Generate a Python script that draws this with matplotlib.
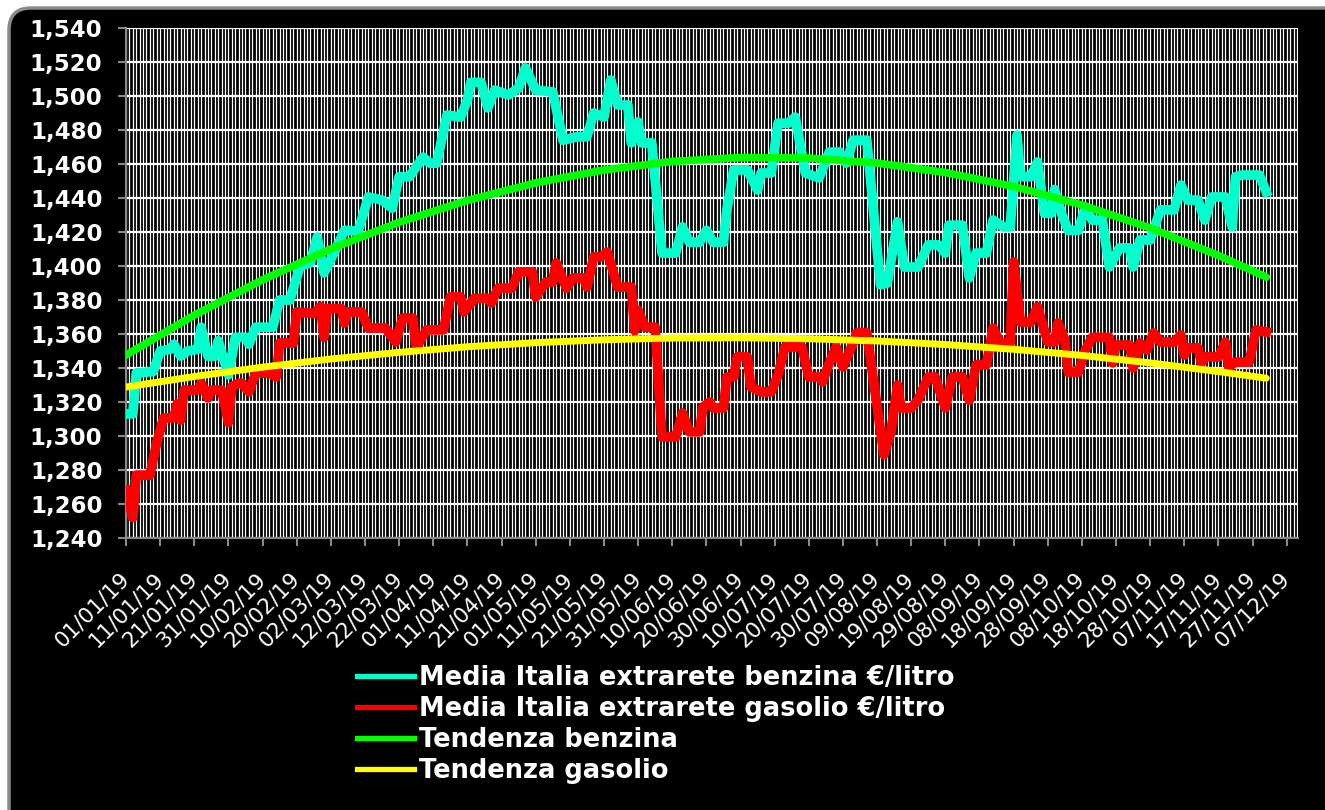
import numpy as np
import pandas as pd
import matplotlib
matplotlib.use("Agg")
import matplotlib.pyplot as plt
import matplotlib.patches as mpatches
import matplotlib.transforms as mtransforms
from matplotlib.lines import Line2D

# Data (day offset from 01/01/19, euro/litre)
benzina_days = [0, 2, 3, 8, 10, 13, 14, 16, 18, 21, 22, 24, 26, 27, 30, 32, 35, 36, 38, 43,
                45, 48, 51, 54, 56, 58, 61, 64, 68, 71, 75, 78, 80, 83, 87, 89, 91, 94, 98, 100,
                101, 104, 106, 108, 112, 115, 117, 120, 125, 128, 132, 135, 137, 140, 142, 144, 147, 148, 150, 151,
                154, 157, 161, 163, 165, 168, 170, 172, 175, 176, 178, 182, 185, 186, 189, 191, 194, 196, 199, 203,
                206, 209, 211, 213, 217, 221, 223, 226, 228, 232, 235, 238, 240, 241, 245, 247, 249, 252, 254, 257,
                259, 261, 262, 265, 267, 269, 271, 272, 274, 276, 279, 281, 283, 286, 288, 291, 294, 295, 297, 300,
                302, 303, 307, 309, 311, 314, 316, 318, 322, 324, 325, 327, 332, 334]
benzina_vals = [1.313, 1.313, 1.337, 1.338, 1.350, 1.351, 1.354, 1.347, 1.350, 1.351, 1.364, 1.347, 1.347, 1.356, 1.336, 1.358, 1.358, 1.354, 1.364, 1.364,
                1.380, 1.380, 1.400, 1.402, 1.417, 1.396, 1.408, 1.421, 1.4205, 1.4406, 1.4388, 1.434, 1.4525, 1.4525, 1.464, 1.4605, 1.4605, 1.4888, 1.4876, 1.4976,
                1.508, 1.508, 1.493, 1.5035, 1.5006, 1.5047, 1.5165, 1.5035, 1.5024, 1.474, 1.476, 1.476, 1.490, 1.4876, 1.5094, 1.4947, 1.4947, 1.4724, 1.4847, 1.4724,
                1.4724, 1.4076, 1.4076, 1.423, 1.414, 1.414, 1.421, 1.414, 1.414, 1.433, 1.4565, 1.4565, 1.4447, 1.4547, 1.4547, 1.484, 1.484, 1.4876, 1.4547, 1.4518,
                1.467, 1.467, 1.4605, 1.474, 1.474, 1.389, 1.390, 1.426, 1.3994, 1.3994, 1.4124, 1.4124, 1.4076, 1.424, 1.424, 1.393, 1.4076, 1.4076, 1.427, 1.423,
                1.423, 1.477, 1.4525, 1.4525, 1.4612, 1.431, 1.431, 1.445, 1.431, 1.421, 1.421, 1.4347, 1.427, 1.427, 1.3994, 1.4106, 1.4106, 1.3994, 1.4153, 1.4153,
                1.427, 1.433, 1.433, 1.4476, 1.4388, 1.4388, 1.427, 1.4406, 1.4406, 1.423, 1.4525, 1.4535, 1.4535, 1.4435]

gasolio_days = [0, 2, 3, 7, 9, 11, 14, 15, 16, 17, 21, 22, 24, 25, 28, 30, 31, 33, 34, 36,
                38, 42, 44, 45, 49, 50, 55, 57, 58, 59, 63, 64, 65, 69, 71, 76, 79, 81, 84, 85,
                88, 93, 95, 98, 99, 102, 106, 107, 109, 113, 115, 119, 120, 123, 125, 126, 129, 131, 134, 135,
                137, 139, 141, 144, 148, 149, 150, 152, 155, 157, 161, 163, 165, 168, 169, 171, 172, 175, 176, 178,
                179, 182, 183, 186, 189, 191, 193, 198, 200, 203, 204, 206, 208, 210, 213, 214, 217, 222, 224, 226,
                227, 230, 232, 235, 237, 240, 242, 245, 247, 249, 252, 254, 256, 259, 260, 262, 265, 267, 270, 272,
                273, 275, 276, 279, 281, 283, 288, 289, 290, 294, 295, 297, 299, 301, 303, 307, 309, 310, 311, 314,
                315, 316, 320, 322, 323, 325, 329, 331, 334]
gasolio_vals = [1.268, 1.252, 1.277, 1.277, 1.296, 1.3106, 1.3106, 1.319, 1.3094, 1.327, 1.327, 1.331, 1.3224, 1.327, 1.327, 1.308, 1.329, 1.331, 1.331, 1.326,
                1.337, 1.337, 1.3347, 1.3547, 1.3547, 1.373, 1.372, 1.376, 1.358, 1.375, 1.375, 1.3665, 1.373, 1.373, 1.3635, 1.3635, 1.3553, 1.3694, 1.3694, 1.3518,
                1.3624, 1.3624, 1.3818, 1.3818, 1.373, 1.381, 1.381, 1.3782, 1.387, 1.387, 1.3965, 1.3965, 1.3818, 1.3906, 1.3906, 1.4018, 1.387, 1.393, 1.393, 1.3876,
                1.4053, 1.4053, 1.4082, 1.3876, 1.3876, 1.362, 1.374, 1.364, 1.364, 1.2994, 1.2994, 1.3135, 1.3024, 1.3024, 1.317, 1.320, 1.3165, 1.3165, 1.3347, 1.3347,
                1.3465, 1.3465, 1.329, 1.326, 1.326, 1.336, 1.3524, 1.3524, 1.3347, 1.3347, 1.3318, 1.343, 1.3524, 1.3406, 1.3547, 1.3606, 1.3606, 1.289, 1.3018, 1.330,
                1.3165, 1.3165, 1.3212, 1.3347, 1.3347, 1.3165, 1.3347, 1.3347, 1.321, 1.3418, 1.3418, 1.3635, 1.3547, 1.3547, 1.4024, 1.367, 1.367, 1.376, 1.3553, 1.3553,
                1.3665, 1.3565, 1.3376, 1.3376, 1.3506, 1.358, 1.358, 1.343, 1.3535, 1.3535, 1.340, 1.3547, 1.3506, 1.3606, 1.3553, 1.3553, 1.3594, 1.3476, 1.3518, 1.3518,
                1.343, 1.3465, 1.3465, 1.3553, 1.3406, 1.3435, 1.3435, 1.3624, 1.3612]

trend_days = [0, 20, 40, 60, 80, 100, 120, 140, 160, 180, 200, 220, 240, 260, 280, 300, 320, 334]
trend_benzina = [1.3476, 1.3711, 1.3919, 1.4101, 1.4257, 1.4386, 1.4489, 1.4565, 1.4615, 1.4638,
                 1.4635, 1.4606, 1.4550, 1.4468, 1.4359, 1.4224, 1.4062, 1.3935]
trend_gasolio = [1.3288, 1.3350, 1.3405, 1.3453, 1.3492, 1.3525, 1.3549, 1.3566, 1.3576, 1.3578,
                 1.3572, 1.3559, 1.3538, 1.3510, 1.3474, 1.3430, 1.3379, 1.3340]

labels = ["Media Italia extrarete benzina €/litro",
          "Media Italia extrarete gasolio €/litro",
          "Tendenza benzina",
          "Tendenza gasolio"]
colors = ["#00FFCC", "#FF0000", "#00FF00", "#FFFF00"]

start = pd.Timestamp("2019-01-01")


def to_dates(days):
    return start + pd.to_timedelta(np.array(days), unit="D")


W, H = 1325, 810
fig = plt.figure(figsize=(W / 100, H / 100), dpi=100, facecolor="white")

# black rounded panel behind everything
panel = mpatches.FancyBboxPatch((9, -20), W + 20, H + 12, boxstyle="round,pad=0,rounding_size=22",
                                transform=mtransforms.IdentityTransform(),
                                facecolor="black", edgecolor="#8a8a8a", linewidth=2.5, zorder=-10)
fig.patches.append(panel)

ax = fig.add_axes([126 / W, 1 - 538 / H, (1298 - 126) / W, (538 - 28) / H])
ax.set_zorder(5)
ax.set_facecolor("black")

ax.plot(to_dates(benzina_days), benzina_vals, color=colors[0], lw=7, solid_joinstyle="round", zorder=3)
ax.plot(to_dates(gasolio_days), gasolio_vals, color=colors[1], lw=7, solid_joinstyle="round", zorder=3)
ax.plot(to_dates(trend_days), trend_benzina, color=colors[2], lw=5.5, solid_capstyle="round", zorder=4)
ax.plot(to_dates(trend_days), trend_gasolio, color=colors[3], lw=5, solid_capstyle="round", zorder=4)

ax.set_ylim(1.24, 1.54)
ax.set_yticks(np.arange(1.24, 1.5401, 0.02))
ax.yaxis.set_major_formatter(plt.FuncFormatter(lambda v, p: f"{v:.3f}".replace(".", ",")))

end = start + pd.Timedelta(days=343.3)
ax.set_xlim(start, end)
major = pd.date_range("2019-01-01", "2019-12-07", freq="10D")
ax.set_xticks(major)
ax.set_xticklabels([d.strftime("%d/%m/%y") for d in major])
ax.set_xticks(pd.date_range("2019-01-01", end, freq="D"), minor=True)

ax.grid(which="minor", axis="x", color="white", lw=0.9, zorder=1)
ax.grid(which="major", axis="x", color="white", lw=0.9, zorder=1)
ax.grid(which="major", axis="y", color="white", lw=1.6, zorder=1)

for s in ["top", "right"]:
    ax.spines[s].set_visible(False)
for s in ["left", "bottom"]:
    ax.spines[s].set_color("#8a8a8a")
    ax.spines[s].set_linewidth(1.5)

ax.tick_params(axis="y", colors="#8a8a8a", length=6, width=1.5, pad=11,
               labelcolor="white", labelsize=16.5)
for t in ax.get_yticklabels():
    t.set_fontweight("bold")
ax.tick_params(axis="x", which="major", colors="#8a8a8a", length=6, width=1.5, pad=21,
               labelcolor="white", labelsize=15.5)
ax.tick_params(axis="x", which="minor", length=0)
for t in ax.get_xticklabels():
    t.set_rotation(45)
    t.set_ha("right")
    t.set_va("center")
    t.set_rotation_mode("anchor")

handles = [Line2D([], [], color=c, lw=3.8) for c in colors]
leg = fig.legend(handles, labels, loc="upper left", bbox_to_anchor=(357 / W, 1 - 665 / H),
                 frameon=False, borderpad=0, borderaxespad=0, handlelength=2.2,
                 handletextpad=0.2, labelspacing=0.2,
                 prop={"size": 18.5, "weight": "bold"})
for t in leg.get_texts():
    t.set_color("white")

fig.savefig("out.png", dpi=100, facecolor="white")
